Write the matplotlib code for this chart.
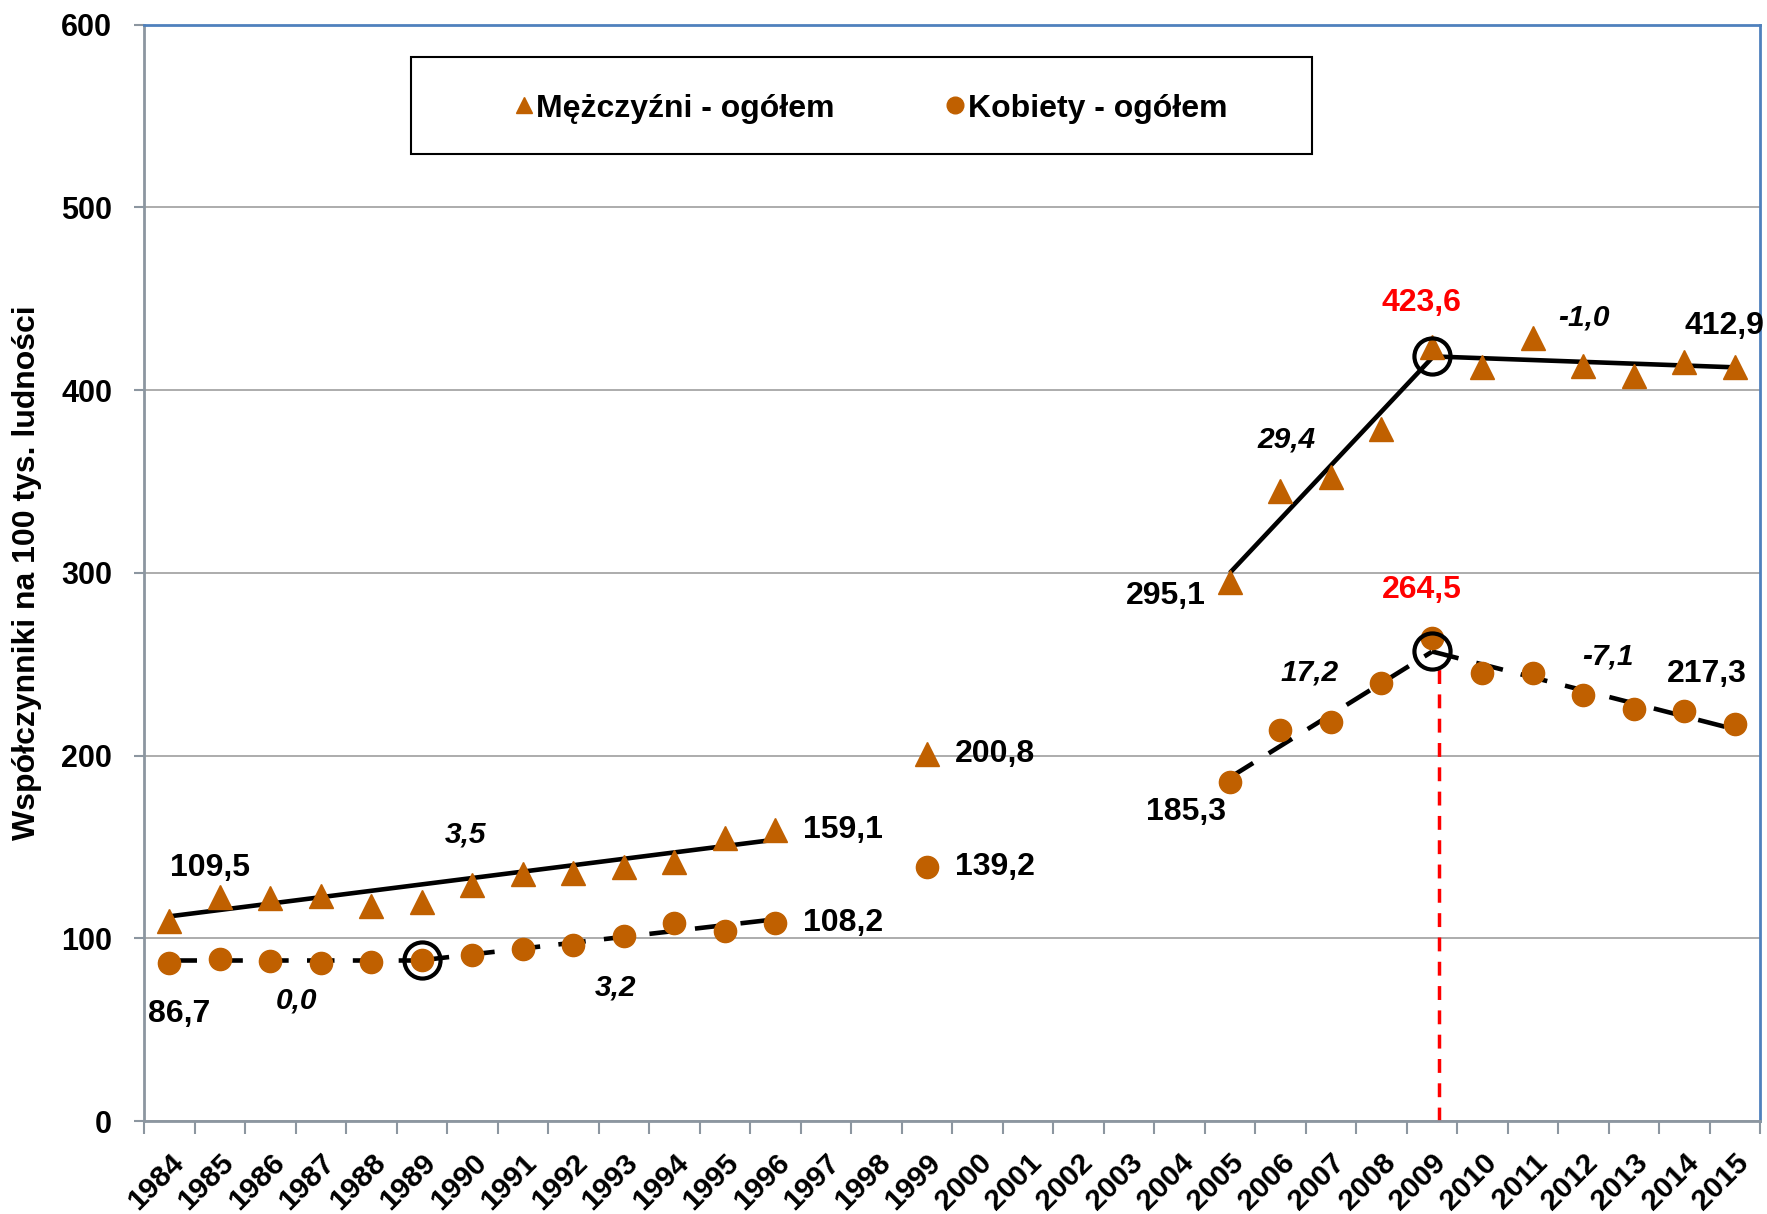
import numpy as np
import matplotlib
matplotlib.use("Agg")
import matplotlib.pyplot as plt
from matplotlib.lines import Line2D
from matplotlib.patches import Rectangle

plt.rcParams["font.family"] = ["Liberation Sans", "DejaVu Sans"]
plt.rcParams["font.weight"] = "bold"

nan = np.nan
years = list(range(1984, 2016))
men = [109.5, 122.7, 122.0, 123.0, 117.8, 120.0, 129.0, 135.0, 135.6, 139.0, 142.0, 155.0,
       159.1, nan, nan, 200.8, nan, nan, nan, nan, nan,
       295.1, 345.0, 352.7, 379.0, 423.6, 412.5, 428.5, 413.0, 407.6, 415.6, 412.9]
women = [86.7, 88.8, 87.6, 86.3, 87.0, 88.2, 90.6, 94.3, 96.2, 101.0, 108.5, 104.2,
         108.2, nan, nan, 139.2, nan, nan, nan, nan, nan,
         185.3, 214.0, 218.3, 240.0, 264.5, 245.4, 245.4, 233.0, 225.7, 224.5, 217.3]

# trend segments: (start year, end year, start value, yearly slope)
men_trends = [(1984, 1996, 112.0, 3.5), (2005, 2009, 300.0, 29.4), (2009, 2015, 418.5, -1.0)]
women_trends = [(1984, 1989, 88.0, 0.0), (1989, 1996, 88.0, 3.2),
                (2005, 2009, 188.0, 17.2), (2009, 2015, 257.0, -7.1)]

# breakpoints marked with hollow circles
break_x = [1989, 2009, 2009]
break_y = [88.0, 418.5, 257.0]

# value labels: (year, value, dx, dy, ha, color)
value_labels = [
    (1984, 109.5, 0.8, 29, "center", "black"),
    (1984, 86.7, 0.2, -28, "center", "black"),
    (1996, 159.1, 0.55, 0, "left", "black"),
    (1996, 108.2, 0.55, 0, "left", "black"),
    (1999, 200.8, 0.55, 0, "left", "black"),
    (1999, 139.2, 0.55, 0, "left", "black"),
    (2005, 295.1, -0.48, -8, "right", "black"),
    (2005, 185.3, -0.08, -16, "right", "black"),
    (2009, 423.6, -0.2, 24, "center", "red"),
    (2009, 264.5, -0.2, 26, "center", "red"),
    (2015, 412.9, -0.2, 22, "center", "black"),
    (2015, 217.3, -0.55, 27.5, "center", "black"),
]
# slope label positions (one per trend segment)
slope_pos = [(1989.87, 156.6), (2006.12, 373.0), (2012.01, 439.7),
             (1986.52, 66.0), (1992.84, 72.8), (2006.57, 245.4), (2012.48, 254.0)]

orange = "#C06000"
W, H = 1767, 1214
fig = plt.figure(figsize=(W / 100, H / 100), dpi=100, facecolor="white")
ax = fig.add_axes([0.0815, 0.0766, 0.9146, 0.903])

ax.set_xlim(1983.5, 2015.5)
ax.set_ylim(0, 600)
ax.yaxis.grid(True, color="#A6A6A6", linewidth=1.3)
ax.set_axisbelow(True)

# trend lines
for (x0, x1, y0, s) in men_trends:
    ax.plot([x0, x1], [y0, y0 + s * (x1 - x0)], color="black", lw=3.3, solid_capstyle="butt", zorder=2)
for (x0, x1, y0, s) in women_trends:
    ax.plot([x0, x1], [y0, y0 + s * (x1 - x0)], color="black", lw=3.3, dashes=(6, 4), zorder=2)

ax.plot(years, men, "^", color=orange, ms=17, mec=orange, zorder=3)
ax.plot(years, women, "o", color=orange, ms=16, mec=orange, zorder=3)
ax.plot(break_x, break_y, "o", mfc="none", mec="black", mew=3, ms=26, zorder=4)

# red dashed line at the women peak
ax.plot([2009.15, 2009.15], [0, 250], color="red", lw=2.5, dashes=(4, 3), zorder=2)

for (x, y, dx, dy, ha, c) in value_labels:
    ax.text(x + dx, y + dy, f"{y:.1f}".replace(".", ","), ha=ha, va="center",
            color=c, fontsize=23, fontweight="bold")

for (x, y), (x0, x1, y0, s) in zip(slope_pos, men_trends + women_trends):
    ax.text(x, y, f"{s:.1f}".replace(".", ","), ha="center", va="center",
            fontsize=21.5, fontweight="bold", style="italic")

# axes styling
for side in ["left", "bottom"]:
    ax.spines[side].set_color("#8C96A0")
    ax.spines[side].set_linewidth(2)
for side in ["top", "right"]:
    ax.spines[side].set_color("#4F81BD")
    ax.spines[side].set_linewidth(2)

ax.set_yticks(range(0, 601, 100))
ax.tick_params(axis="y", labelsize=22, length=7, width=1.5, color="#8C96A0", pad=16)
ax.set_xticks(years)
ax.set_xticklabels([str(y) for y in years], rotation=45, ha="right", rotation_mode="anchor",
                   fontsize=21.5, fontweight="bold")
ax.tick_params(axis="x", which="major", length=0, pad=20)
ax.set_xticks(np.arange(1983.5, 2015.6, 1), minor=True)
ax.tick_params(axis="x", which="minor", length=9, width=1.5, color="#8C96A0")
for lab in ax.get_yticklabels():
    lab.set_fontweight("bold")

ax.set_ylabel("Współczynniki na 100 tys. ludności", fontsize=23, fontweight="bold", labelpad=14)

# legend with its own frame
ax.add_patch(Rectangle((0.165, 0.882), 0.558, 0.089, transform=ax.transAxes,
                       fill=False, edgecolor="black", lw=1.5, zorder=5))
handles = [Line2D([], [], ls="none", marker="^", color=orange, ms=12),
           Line2D([], [], ls="none", marker="o", color=orange, ms=12)]
ax.legend(handles, ["Mężczyźni - ogółem", "Kobiety - ogółem"], loc="center",
          bbox_to_anchor=(0.450, 0.9235), ncol=2, frameon=False,
          handlelength=0.55, handletextpad=0.12, columnspacing=3.5,
          prop={"size": 23, "weight": "bold"})

fig.savefig("out.png", dpi=100, facecolor="white")
